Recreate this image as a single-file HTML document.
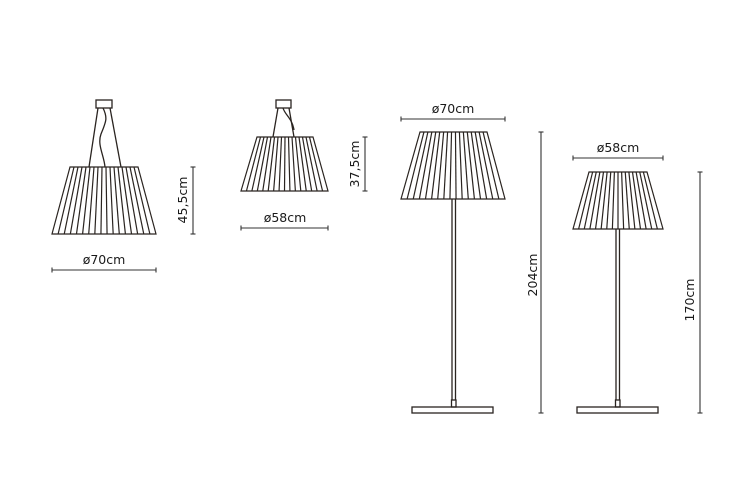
<!DOCTYPE html>
<html><head><meta charset="utf-8"><style>
html,body{margin:0;padding:0;background:#fff}
svg{display:block}
text{font-family:"DejaVu Sans","Liberation Sans",sans-serif;font-size:12.5px;fill:#1a1a1a}
</style></head><body>
<svg id="s" width="740" height="492" viewBox="0 0 740 492" xmlns="http://www.w3.org/2000/svg">
<g stroke="#2a2420" stroke-width="1.3" fill="none">
<rect x="96" y="100" width="16" height="8"/>
<line x1="98" y1="108" x2="89" y2="167"/>
<line x1="110" y1="108" x2="121" y2="167"/>
<path d="M103 108 C108 118,106 122,101 134 C97 145,104 155,105 167"/>
<rect x="276" y="100" width="15" height="8"/>
<line x1="278" y1="108" x2="273" y2="137"/>
<line x1="289" y1="108" x2="294" y2="137"/>
<path d="M283 108 C285 115,292 118,294 130"/>
<line x1="452" y1="199" x2="452" y2="400"/>
<line x1="455.5" y1="199" x2="455.5" y2="400"/>
<rect x="451.5" y="400" width="4.5" height="7"/>
<rect x="412" y="407" width="81" height="6"/>
<line x1="616" y1="229" x2="616" y2="400"/>
<line x1="619.5" y1="229" x2="619.5" y2="400"/>
<rect x="615.5" y="400" width="4.5" height="7"/>
<rect x="577" y="407" width="81" height="6"/>
</g>
<g id="shades" stroke="#2a2420" stroke-width="1.2" fill="#fff"></g>
<g stroke="#333" stroke-width="1.1" fill="none">
<line x1="193" y1="167" x2="193" y2="234"/><line x1="190.5" y1="167" x2="195.5" y2="167"/><line x1="190.5" y1="234" x2="195.5" y2="234"/>
<line x1="52" y1="270" x2="156" y2="270"/><line x1="52" y1="267.5" x2="52" y2="272.5"/><line x1="156" y1="267.5" x2="156" y2="272.5"/>
<line x1="241" y1="228" x2="328" y2="228"/><line x1="241" y1="225.5" x2="241" y2="230.5"/><line x1="328" y1="225.5" x2="328" y2="230.5"/>
<line x1="365" y1="137" x2="365" y2="191"/><line x1="362.5" y1="137" x2="367.5" y2="137"/><line x1="362.5" y1="191" x2="367.5" y2="191"/>
<line x1="401" y1="119" x2="505" y2="119"/><line x1="401" y1="116.5" x2="401" y2="121.5"/><line x1="505" y1="116.5" x2="505" y2="121.5"/>
<line x1="541" y1="132" x2="541" y2="413"/><line x1="538.5" y1="132" x2="543.5" y2="132"/><line x1="538.5" y1="413" x2="543.5" y2="413"/>
<line x1="573" y1="158" x2="663" y2="158"/><line x1="573" y1="155.5" x2="573" y2="160.5"/><line x1="663" y1="155.5" x2="663" y2="160.5"/>
<line x1="700" y1="172" x2="700" y2="413"/><line x1="697.5" y1="172" x2="702.5" y2="172"/><line x1="697.5" y1="413" x2="702.5" y2="413"/>
</g>
<text x="104" y="264" text-anchor="middle">ø70cm</text>
<text x="285" y="222" text-anchor="middle">ø58cm</text>
<text x="453" y="113" text-anchor="middle">ø70cm</text>
<text x="618" y="152" text-anchor="middle">ø58cm</text>
<text transform="translate(187,200) rotate(-90)" text-anchor="middle">45,5cm</text>
<text transform="translate(359,164) rotate(-90)" text-anchor="middle">37,5cm</text>
<text transform="translate(537,275) rotate(-90)" text-anchor="middle">204cm</text>
<text transform="translate(694,300) rotate(-90)" text-anchor="middle">170cm</text>
</svg>
<script>
var g=document.getElementById('shades'),ns='http://www.w3.org/2000/svg';
function shade(tl,tr,ty,bl,br,by,n){
 var p=document.createElementNS(ns,'polygon');
 p.setAttribute('points',tl+','+ty+' '+tr+','+ty+' '+br+','+by+' '+bl+','+by);
 g.appendChild(p);
 for(var i=1;i<n;i++){var t=i/n;var l=document.createElementNS(ns,'line');
 l.setAttribute('x1',tl+(tr-tl)*t);l.setAttribute('y1',ty);
 l.setAttribute('x2',bl+(br-bl)*t);l.setAttribute('y2',by);g.appendChild(l);}
}
shade(70,138,167,52,156,234,17);
shade(257,313,137,241,328,191,16);
shade(420,487,132,401,505,199,17);
shade(589,647,172,573,663,229,16);
</script>
</body></html>
